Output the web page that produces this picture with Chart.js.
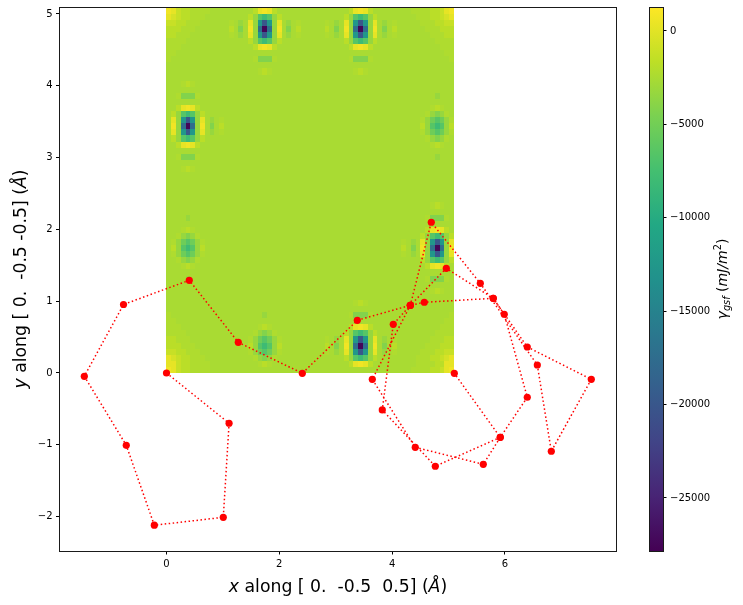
<!DOCTYPE html>
<html><head><meta charset="utf-8">
<style>html,body{margin:0;padding:0;background:#fff}canvas{display:block}</style>
<script src="https://cdn.jsdelivr.net/npm/chart.js@4"></script>
</head><body><canvas id="c" width="743" height="605"></canvas>
<script>
const pathX = [0,1.11,1.007,-0.216,-0.713,-1.457,-0.762,0.404,1.273,2.408,3.383,4.323,4.571,5.794,5.989,6.397,5.918,4.766,3.826,4.021,4.323,4.695,5.564,6.575,6.823,7.532,6.397,5.794,4.961,4.323,3.649,4.411,5.617,5.918,5.103];
const pathY = [0,-0.70,-2.01,-2.12,-1.007,-0.046,0.954,1.291,0.427,-0.004,0.734,0.943,0.985,1.04,0.818,-0.338,-0.896,-1.299,-0.515,0.678,0.943,2.099,1.249,0.111,-1.09,-0.088,0.362,1.04,1.458,0.943,-0.088,-1.035,-1.272,-0.896,-0.004];
const xTicks = [0,2,4,6];
const yTicks = [-2,-1,0,1,2,3,4,5];
const cbTicks = [0,-5000,-10000,-15000,-20000,-25000];
const gridExtentX = 5.098, gridExtentY = 5.09;
const levelChars = "ABCDEFGHIJKL.mnopqrs";
const levelValues = [-27500,-23500,-20000,-17500,-15000,-12500,-10000,-8000,-6500,-5200,-4200,-3300,-2500,-2250,-1800,-1200,-500,200,700,1200];
// gamma surface, 60 x 60 cells, top row first (spaces only for legibility)
const gammaRows = [
"rqonnmmmm.... .....nqrqn..... ..... .....nqrqn..... ...mmmmnnoqr",
"qponnmmm..... ....nLIHILn.... ..... ....nLIHILn.... ....mmmnnopq",
"oonnmmm...... m.L.qLFCFLq.L.m ..... m.L.qLFCFLq.L.m .....mmmnnoo",
"nnnmmm....... n.K.rLDADLr.K.n ..... n.K.rLDADLr.K.n ......mmmnnn",
"nnmmm........ m.L.qLFCFLq.L.m ..... m.L.qLFCFLq.L.m .......mmmnn",
"mmmm......... ....nLIHILn.... ..... ....nLIHILn.... ........mmmm",
"mmm.......... .....nqrqn..... ..... .....nqrqn..... .........mmm",
"mm........... ............... ..... ............... ..........mm",
"m............ .....mKKKm..... ..... .....mKKKm..... ...........m",
"............. ............... ..... ............... ............",
"............. ......mnm...... ..... ......mnm...... ............",
"............. ............... ..... ............... ............",
"...mnm...... ..................................... ...........",
"............ ..................................... ...........",
"..mKKKm..... ..................................... .......L...",
"............ ..................................... ...........",
"..nqrqn..... ..................................... ......mnm..",
".nLIHILn.... ..................................... .....mLKLm.",
".qLFCFLq.L.m ..................................... ....mLJIJLm",
".rLDADLr.K.n ..................................... ....nLIHILn",
".qLFCFLq.L.m ..................................... ....mLJIJLm",
".nLIHILn.... ..................................... .....mLKLm.",
"..nqrqn..... ..................................... ......mnm..",
"............ ..................................... ...........",
"..mKKKm..... ..................................... .......L...",
"............ ..................................... ...........",
"...mnm...... ..................................... ...........",
"............ ..................................... ...........",
"............ ..................................... ...........",
"............ ..................................... ...........",
"............ ..................................... ...........",
"............ ..................................... ...........",
"............ ..................................... ......mnm..",
"............ ..................................... ...........",
"....L....... ..................................... .....mKKKm.",
"............ ..................................... ...........",
"...mnm...... ..................................... .....nqrqn.",
"..mLKLm..... ..................................... ....nLIHILn",
".mLJIJLm.... ..................................... m.L.qLFCFLq",
".nLIHILn.... ..................................... n.K.rLDADLr",
".mLJIJLm.... ..................................... m.L.qLFCFLq",
"..mLKLm..... ..................................... ....nLIHILn",
"...mnm...... ..................................... .....nqrqn.",
"............ ..................................... ...........",
"....L....... ..................................... .....mKKKm.",
"............ ..................................... ...........",
"............ ..................................... ......mnm..",
"............ ..................................... ...........",
"............. ............... ..... ......mnm...... ............",
"............. ............... ..... ............... ............",
"m............ .......L....... ..... .....mKKKm..... ...........m",
"mm........... ............... ..... ............... ..........mm",
"mmm.......... ......mnm...... ..... .....nqrqn..... .........mmm",
"mmmm......... .....mLKLm..... ..... ....nLIHILn.... ........mmmm",
"nnmmm........ ....mLJIJLm.... ..... m.L.qLFCFLq.L.m .......mmmnn",
"nnnmmm....... ....nLIHILn.... ..... n.K.rLDADLr.K.n ......mmmnnn",
"oonnmmm...... ....mLJIJLm.... ..... m.L.qLFCFLq.L.m .....mmmnnoo",
"qponnmmm..... .....mLKLm..... ..... ....nLIHILn.... ....mmmnnopq",
"qqonnmmmm.... ......mnm...... ..... .....nqrqn..... ....mmmmnnqq",
"rqonnmmmm.... ............... ..... ............... ...mmmmnnoqr"
];
const cbMin = -27840, cbMax = 1258;

const viridis = ["#440154","#482475","#414487","#355f8d","#2a788e","#21918c","#22a884","#44bf70","#7ad151","#bddf26","#fde725"];
const rgb = viridis.map(h => [1,3,5].map(i => parseInt(h.substr(i,2),16)));
function colorOf(v){
  const t = Math.min(1, Math.max(0, (v-cbMin)/(cbMax-cbMin))) * 10;
  const i = Math.min(9, Math.floor(t)), f = t-i;
  const c = rgb[i].map((a,k) => Math.round(a+(rgb[i+1][k]-a)*f));
  return `rgb(${c[0]},${c[1]},${c[2]})`;
}
const gammaGrid = gammaRows.map(r => [...r.replace(/ /g,'')].map(ch => levelValues[levelChars.indexOf(ch)]));

const FONT = '"DejaVu Sans"';
function drawRuns(ctx, runs, cx, cy, rot){
  ctx.save();
  ctx.translate(cx, cy);
  ctx.rotate(rot);
  ctx.fillStyle = '#000';
  ctx.textBaseline = 'alphabetic';
  ctx.textAlign = 'left';
  let w = 0;
  runs.forEach(r => { ctx.font = `${r.style||'normal'} ${r.size}px ${FONT}`; r.w = ctx.measureText(r.t).width; w += r.w; });
  let x = -w/2;
  runs.forEach(r => { ctx.font = `${r.style||'normal'} ${r.size}px ${FONT}`; ctx.fillText(r.t, x, r.dy||0); x += r.w; });
  ctx.restore();
}
const heatPlugin = {
  id:'heat',
  beforeDatasetsDraw(chart){
    const {ctx, scales:{x,y}} = chart;
    const n = gammaGrid.length, m = gammaGrid[0].length;
    ctx.save();
    gammaGrid.forEach((row,t) => row.forEach((v,i) => {
      const x0 = Math.round(x.getPixelForValue(i*gridExtentX/m)), x1 = Math.round(x.getPixelForValue((i+1)*gridExtentX/m));
      const y0 = Math.round(y.getPixelForValue(gridExtentY*(n-t)/n)), y1 = Math.round(y.getPixelForValue(gridExtentY*(n-t-1)/n));
      ctx.fillStyle = colorOf(v);
      ctx.fillRect(x0,y0,x1-x0,y1-y0);
    }));
    ctx.restore();
  },
  afterDraw(chart){
    const {ctx, chartArea:a, scales:{cb}} = chart;
    ctx.save();
    ctx.strokeStyle = '#1a1a1a'; ctx.lineWidth = 1;
    const L = Math.floor(a.left)+.5, T = Math.floor(a.top)+.5, R = Math.floor(a.right)+.5, B = Math.floor(a.bottom)+.5;
    ctx.strokeRect(L, T, R-L, B-T);
    // colour bar
    const barL = 649.5, barR = Math.floor(cb.left)+.5;
    const top = cb.getPixelForValue(cbMax), bot = cb.getPixelForValue(cbMin);
    const g = ctx.createLinearGradient(0, bot, 0, top);
    viridis.forEach((h,i) => g.addColorStop(i/10,h));
    ctx.fillStyle = g;
    ctx.fillRect(barL, T, barR-barL, B-T);
    ctx.strokeRect(barL, T, barR-barL, B-T);
    ctx.restore();
    drawRuns(ctx, [{t:'x',size:17.28,style:'italic'},{t:' along [ 0.  -0.5  0.5] (',size:17.28},{t:'Å',size:17.28,style:'italic'},{t:')',size:17.28}], 338, 592, 0);
    drawRuns(ctx, [{t:'y',size:17.28,style:'italic'},{t:' along [ 0.  -0.5 -0.5] (',size:17.28},{t:'Å',size:17.28,style:'italic'},{t:')',size:17.28}], 26, 279, -Math.PI/2);
    drawRuns(ctx, [{t:'γ',size:14,style:'italic'},{t:'gsf',size:9.8,style:'italic',dy:3},{t:' (',size:14},{t:'mJ/m',size:14,style:'italic'},{t:'2',size:9.8,dy:-6},{t:')',size:14}], 727, 279, -Math.PI/2);
  }
};
const tickFont = {family:FONT,size:10};
const fmt = v => String(v).replace('-','\u2212');
const noPad = s => { s.paddingTop = 0; s.paddingBottom = 0; s.paddingLeft = 0; s.paddingRight = 0; };
const axisBase = ticks => ({
  afterBuildTicks: s => { s.ticks = ticks.map(v => ({value:v})); },
  grid:{display:true,drawOnChartArea:false,drawTicks:true,tickLength:3.5,tickColor:'#000',tickWidth:1},
  border:{display:false},
  ticks:{font:tickFont,color:'#000',padding:3.5,maxRotation:0,autoSkip:false,callback:fmt}
});
new Chart(document.getElementById('c'),{
  type:'scatter',
  data:{datasets:[{
    data:pathX.map((x,i)=>({x,y:pathY[i]})),
    showLine:true,borderColor:'#ff0000',borderWidth:1.5,borderDash:[1.5,2.5],
    backgroundColor:'#ff0000',pointBackgroundColor:'#ff0000',pointBorderWidth:0,pointRadius:3.6,tension:0,clip:false
  }]},
  plugins:[heatPlugin],
  options:{
    responsive:false,animation:false,devicePixelRatio:1,
    layout:{padding:{top:7.5,left:0,right:0,bottom:0}},
    plugins:{legend:{display:false},tooltip:{enabled:false},title:{display:false}},
    scales:{
      x:{...axisBase(xTicks),type:'linear',position:'bottom',min:-1.897,max:7.970,afterFit:s=>{s.height=54;noPad(s);}},
      y:{...axisBase(yTicks),type:'linear',position:'left',min:-2.479,max:5.090,afterFit:s=>{s.width=59.5;noPad(s);}},
      spacer:{type:'linear',position:'right',weight:0,min:0,max:1,grid:{display:false},border:{display:false},ticks:{display:false},afterFit:s=>{s.width=47;noPad(s);}},
      cb:{...axisBase(cbTicks),type:'linear',position:'right',weight:1,min:cbMin,max:cbMax,afterFit:s=>{s.width=80;noPad(s);}}
    }
  }
});
</script></body></html>
